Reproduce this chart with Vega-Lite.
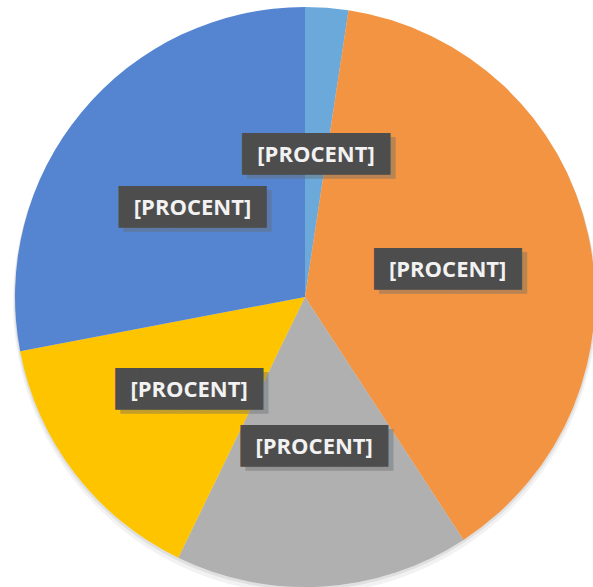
{
  "$schema": "https://vega.github.io/schema/vega-lite/v6.json",
  "width": 610,
  "height": 594,
  "autosize": "none",
  "padding": 0,
  "background": "white",
  "config": {"view": {"stroke": null}},
  "data": {"values": [
    {"category": "Kategoria 1", "value": 2.4, "label": "[PROCENT]", "box": "███████"},
    {"category": "Kategoria 2", "value": 38.4, "label": "[PROCENT]", "box": "███████"},
    {"category": "Kategoria 3", "value": 16.4, "label": "[PROCENT]", "box": "███████"},
    {"category": "Kategoria 4", "value": 14.8, "label": "[PROCENT]", "box": "███████"},
    {"category": "Kategoria 5", "value": 28.0, "label": "[PROCENT]", "box": "███████"}
  ]},
  "encoding": {
    "theta": {"field": "value", "type": "quantitative", "stack": true},
    "order": {"field": "category", "sort": "ascending"}
  },
  "layer": [
    {"mark": {"type": "arc", "outerRadius": 292, "yOffset": 5, "color": "#000000", "opacity": 0.05}},
    {"mark": {"type": "arc", "outerRadius": 291, "yOffset": 2, "color": "#000000", "opacity": 0.07}},
    {
      "mark": {"type": "arc", "outerRadius": 290},
      "encoding": {
        "color": {"field": "category", "type": "nominal", "legend": null,
          "scale": {"domain": ["Kategoria 1", "Kategoria 2", "Kategoria 3", "Kategoria 4", "Kategoria 5"],
                    "range": ["#6BA9DB", "#F39442", "#B0B0B0", "#FFC400", "#5585D1"]}}
      }
    },
    {
      "mark": {"type": "text", "radius": 146, "font": "DejaVu Sans Mono", "fontSize": 35, "color": "#6a6a6a", "opacity": 0.4, "dx": 5, "dy": 8, "baseline": "middle", "align": "center"},
      "encoding": {"text": {"field": "box"}}
    },
    {
      "mark": {"type": "text", "radius": 146, "font": "DejaVu Sans Mono", "fontSize": 35, "color": "#4D4D4D", "dy": 4, "baseline": "middle", "align": "center"},
      "encoding": {"text": {"field": "box"}}
    },
    {
      "mark": {"type": "text", "radius": 146, "font": "Open Sans", "fontWeight": "bold", "fontSize": 22, "color": "#F2F2F2", "dy": 4, "baseline": "middle", "align": "center"},
      "encoding": {"text": {"field": "label"}}
    }
  ]
}
